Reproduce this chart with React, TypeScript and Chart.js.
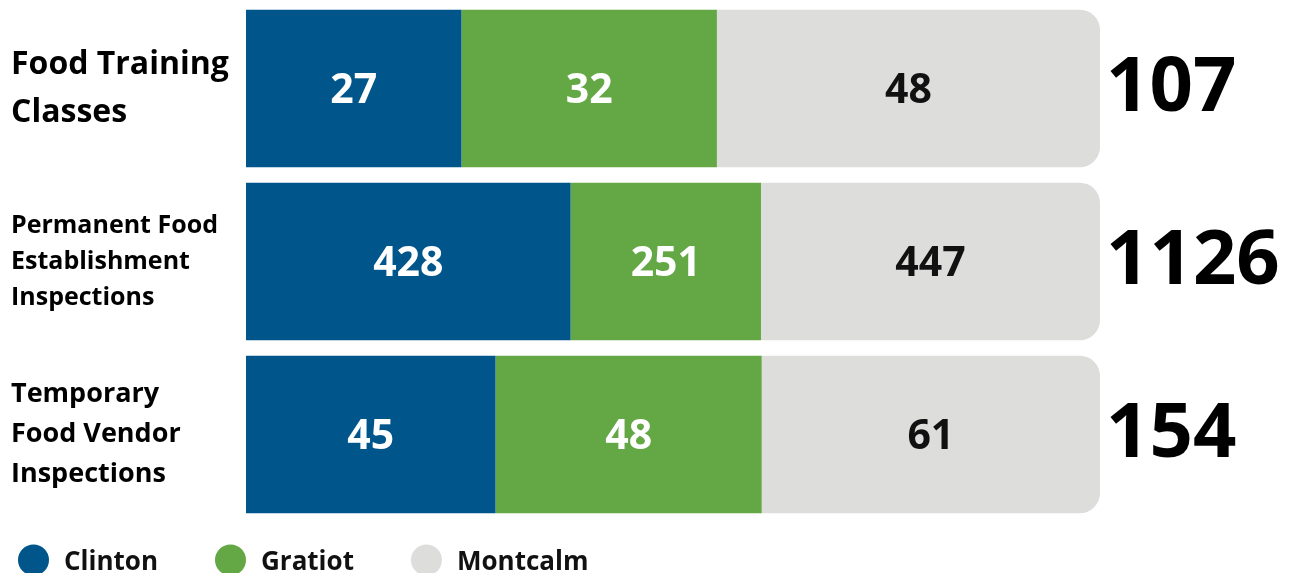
import React, { useEffect, useRef } from "react";
import { Chart, registerables } from "chart.js";

Chart.register(...registerables);

const categories: string[][] = [
  ["Food Training", "Classes"],
  ["Permanent Food", "Establishment", "Inspections"],
  ["Temporary", "Food Vendor", "Inspections"],
];
const seriesNames = ["Clinton", "Gratiot", "Montcalm"];
const clinton = [27, 428, 45];
const gratiot = [32, 251, 48];
const montcalm = [48, 447, 61];
const seriesColors = ["#00568A", "#63A845", "#DDDDDC"];
const valueLabelColors = ["#FFFFFF", "#FFFFFF", "#111111"];

const categoryFontSizes = [32, 25, 27];
const categoryLineHeights = [1.5, 1.44, 1.48];

const FONT = "'Open Sans', Lato, sans-serif";

export default function App() {
  const canvasRef = useRef<HTMLCanvasElement | null>(null);

  useEffect(() => {
    document.body.style.margin = "0";
    const raw = [clinton, gratiot, montcalm];
    const totals = categories.map((_, i) => raw.reduce((s, arr) => s + arr[i], 0));
    const pct = raw.map((arr) => arr.map((v, i) => (v / totals[i]) * 100));

    const valueLabels = {
      id: "valueLabels",
      afterDatasetsDraw(chart: any) {
        const ctx = chart.ctx;
        ctx.save();
        ctx.font = `bold 41px ${FONT}`;
        ctx.textAlign = "center";
        ctx.textBaseline = "middle";
        chart.data.datasets.forEach((ds: any, di: number) => {
          const meta = chart.getDatasetMeta(di);
          meta.data.forEach((el: any, i: number) => {
            const props = el.getProps(["x", "y", "base"], true);
            ctx.fillStyle = valueLabelColors[di];
            ctx.fillText(String(raw[di][i]), (props.x + props.base) / 2, props.y + 3);
          });
        });
        const last = chart.getDatasetMeta(chart.data.datasets.length - 1);
        ctx.font = `bold 76px ${FONT}`;
        ctx.textAlign = "left";
        ctx.fillStyle = "#000000";
        last.data.forEach((el: any, i: number) => {
          ctx.fillText(String(totals[i]), chart.chartArea.right + 6, el.y + 1);
        });
        ctx.restore();
      },
    };

    const bottomLegend = {
      id: "bottomLegend",
      afterDraw(chart: any) {
        const ctx = chart.ctx;
        ctx.save();
        ctx.font = `bold 26px ${FONT}`;
        ctx.textAlign = "left";
        ctx.textBaseline = "alphabetic";
        let x = 18;
        const cy = 560;
        chart.data.datasets.forEach((ds: any) => {
          ctx.fillStyle = ds.backgroundColor;
          ctx.beginPath();
          ctx.arc(x + 15.5, cy, 15.5, 0, Math.PI * 2);
          ctx.fill();
          ctx.fillStyle = "#111111";
          ctx.fillText(ds.label, x + 46, cy + 10);
          x = x + 46 + ctx.measureText(ds.label).width + 57;
        });
        ctx.restore();
      },
    };

    const chart = new Chart(canvasRef.current as HTMLCanvasElement, {
      type: "bar",
      data: {
        labels: categories,
        datasets: seriesNames.map((name, di) => ({
          label: name,
          data: pct[di],
          backgroundColor: seriesColors[di],
          borderWidth: 0,
          borderSkipped: false,
          borderRadius:
            di === seriesNames.length - 1
              ? { topLeft: 0, bottomLeft: 0, topRight: 20, bottomRight: 20 }
              : 0,
          barPercentage: 0.91,
          categoryPercentage: 1,
        })),
      },
      options: {
        indexAxis: "y",
        responsive: false,
        animation: false,
        layout: { padding: { left: 11, right: 195, top: 2, bottom: 52 } },
        plugins: {
          legend: { display: false },
          tooltip: { enabled: false },
        },
        scales: {
          x: { stacked: true, min: 0, max: 100, display: false },
          y: {
            stacked: true,
            grid: { display: false, drawTicks: false },
            border: { display: false },
            ticks: {
              crossAlign: "far",
              padding: 0,
              color: "#000000",
              font: (c: any) => ({
                family: FONT,
                weight: "bold",
                size: categoryFontSizes[c.index] ?? 28,
                lineHeight: categoryLineHeights[c.index] ?? 1.4,
              }),
            },
            afterFit: (scale: any) => {
              scale.width = 235;
              scale.paddingTop = 0;
              scale.paddingBottom = 0;
            },
          },
        },
      },
      plugins: [valueLabels, bottomLegend],
    } as any);
    return () => chart.destroy();
  }, []);

  return (
    <div style={{ position: "fixed", left: 0, top: 0, width: 1295, height: 573, background: "#fff" }}>
      <canvas ref={canvasRef} width={1295} height={573} style={{ display: "block" }} />
    </div>
  );
}
